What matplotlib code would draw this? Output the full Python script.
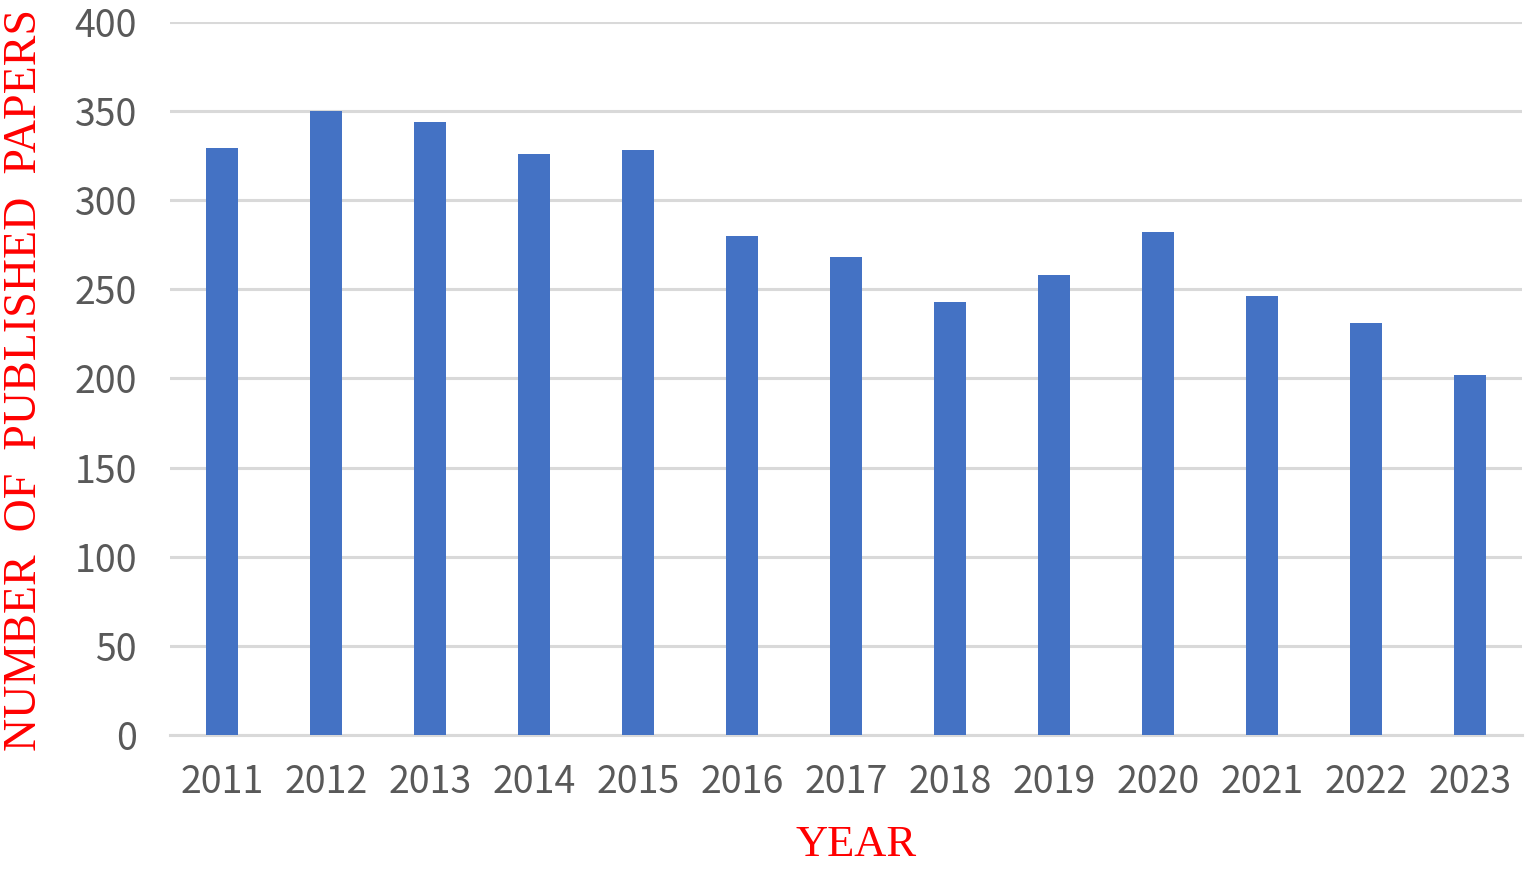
import matplotlib.pyplot as plt
import numpy as np

years = ['2011', '2012', '2013', '2014', '2015', '2016', '2017',
         '2018', '2019', '2020', '2021', '2022', '2023']
papers = [329, 350, 344, 326, 328, 280, 268, 243, 258, 282, 246, 231, 202]
yticks = [0, 50, 100, 150, 200, 250, 300, 350, 400]

fig = plt.figure(figsize=(15.35, 8.69), dpi=100)
ax = fig.add_axes([0.111, 0.154, 0.8805, 0.821])

x = np.arange(len(years))
ax.bar(x, papers, width=0.31, color='#4472C4', zorder=3)

ax.set_xlim(-0.5, len(years) - 0.5)
ax.set_ylim(0, 400)
ax.set_yticks(yticks)
ax.set_xticks(x)
ax.set_xticklabels(years)
ax.grid(axis='y', color='#d9d9d9', linewidth=2.2, zorder=0)
ax.tick_params(length=0, labelsize=27, labelcolor='#595959')
ax.tick_params(axis='x', pad=20)
ax.tick_params(axis='y', pad=24)
for lab in ax.get_xticklabels() + ax.get_yticklabels():
    lab.set_family(['Noto Sans CJK SC', 'DejaVu Sans'])
    lab.set_fontweight('light')
for s in ['top', 'right', 'left']:
    ax.spines[s].set_visible(False)
ax.spines['bottom'].set_color('#d9d9d9')
ax.spines['bottom'].set_linewidth(2.2)

fig.text(0.558, 0.028, 'YEAR', family='Liberation Serif', fontsize=32,
         color='red', ha='center', va='center')
fig.text(0.016, 0.5627, 'NUMBER  OF  PUBLISHED  PAPERS', family='Liberation Serif',
         fontsize=33, color='red', rotation=90, ha='center', va='center')

fig.savefig('out.png', dpi=100)
